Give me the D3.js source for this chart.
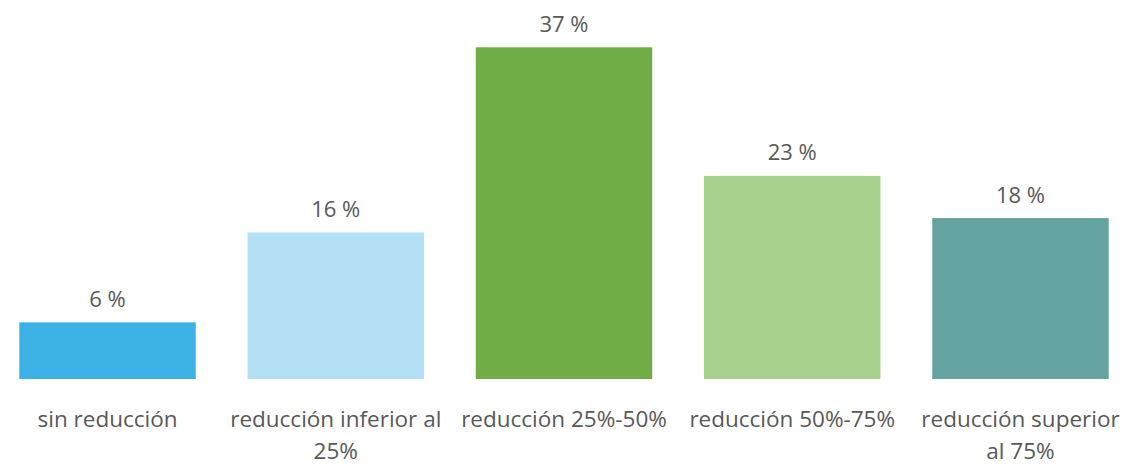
<!DOCTYPE html>
<html>
<head>
<meta charset="utf-8">
<script src="https://cdn.jsdelivr.net/npm/d3@7"></script>
<style>
  html, body { margin: 0; padding: 0; background: #ffffff; }
  svg { display: block; }
  text { font-family: "Open Sans", "Noto Sans", sans-serif; fill: #595959; }
</style>
</head>
<body>
<svg id="chart" width="1140" height="469"></svg>
<script>
const categories = ["sin reducción", "reducción inferior al 25%", "reducción 25%-50%", "reducción 50%-75%", "reducción superior al 75%"];
const values = [6.3, 16.3, 36.9, 22.6, 17.9];
const colors = ["#3BB1E5", "#B3E0F4", "#70AD47", "#A9D18E", "#63A3A0"];

const W = 1140, H = 469;
const svg = d3.select("#chart");

const x = d3.scaleBand()
  .domain(categories)
  .range([-6.6, 1134.6])
  .paddingInner(0.227)
  .paddingOuter(0.1135);

const y = d3.scaleLinear()
  .domain([0, d3.max(values)])
  .range([379, 47.3]);

const data = categories.map((c, i) => ({ c, v: values[i], col: colors[i] }));

svg.append("g").selectAll("rect")
  .data(data)
  .join("rect")
  .attr("x", d => x(d.c))
  .attr("y", d => y(d.v))
  .attr("width", x.bandwidth())
  .attr("height", d => y(0) - y(d.v))
  .attr("fill", d => d.col);

svg.append("g").selectAll("text")
  .data(data)
  .join("text")
  .attr("x", d => x(d.c) + x.bandwidth() / 2)
  .attr("y", d => y(d.v) - 15.5)
  .attr("text-anchor", "middle")
  .style("font-size", "22px")
  .text(d => Math.round(d.v) + " %");

// category axis labels (no axis line), wrapped to the band step
const xAxis = d3.axisBottom(x).tickSize(0).tickPadding(0);
const ax = svg.append("g").attr("transform", "translate(0,379)").call(xAxis);
ax.select(".domain").remove();
ax.selectAll(".tick text")
  .attr("y", 47.5)
  .attr("dy", null)
  .style("font-size", "22.5px")
  .style("font-family", "\"Open Sans\", \"Noto Sans\", sans-serif")
  .attr("fill", "#595959")
  .each(function(d) {
    const t = d3.select(this);
    const words = d.split(" ");
    const maxW = x.step() * 0.95;
    t.text(null);
    let lines = [], cur = [];
    const probe = t.append("tspan");
    words.forEach(w => {
      const test = cur.concat([w]).join(" ");
      probe.text(test);
      if (probe.node().getComputedTextLength() > maxW && cur.length) {
        lines.push(cur.join(" "));
        cur = [w];
      } else cur.push(w);
    });
    lines.push(cur.join(" "));
    probe.remove();
    lines.forEach((ln, i) => {
      t.append("tspan").attr("x", 0).attr("dy", i === 0 ? 0 : 32.5).text(ln);
    });
  });
</script>
</body>
</html>
